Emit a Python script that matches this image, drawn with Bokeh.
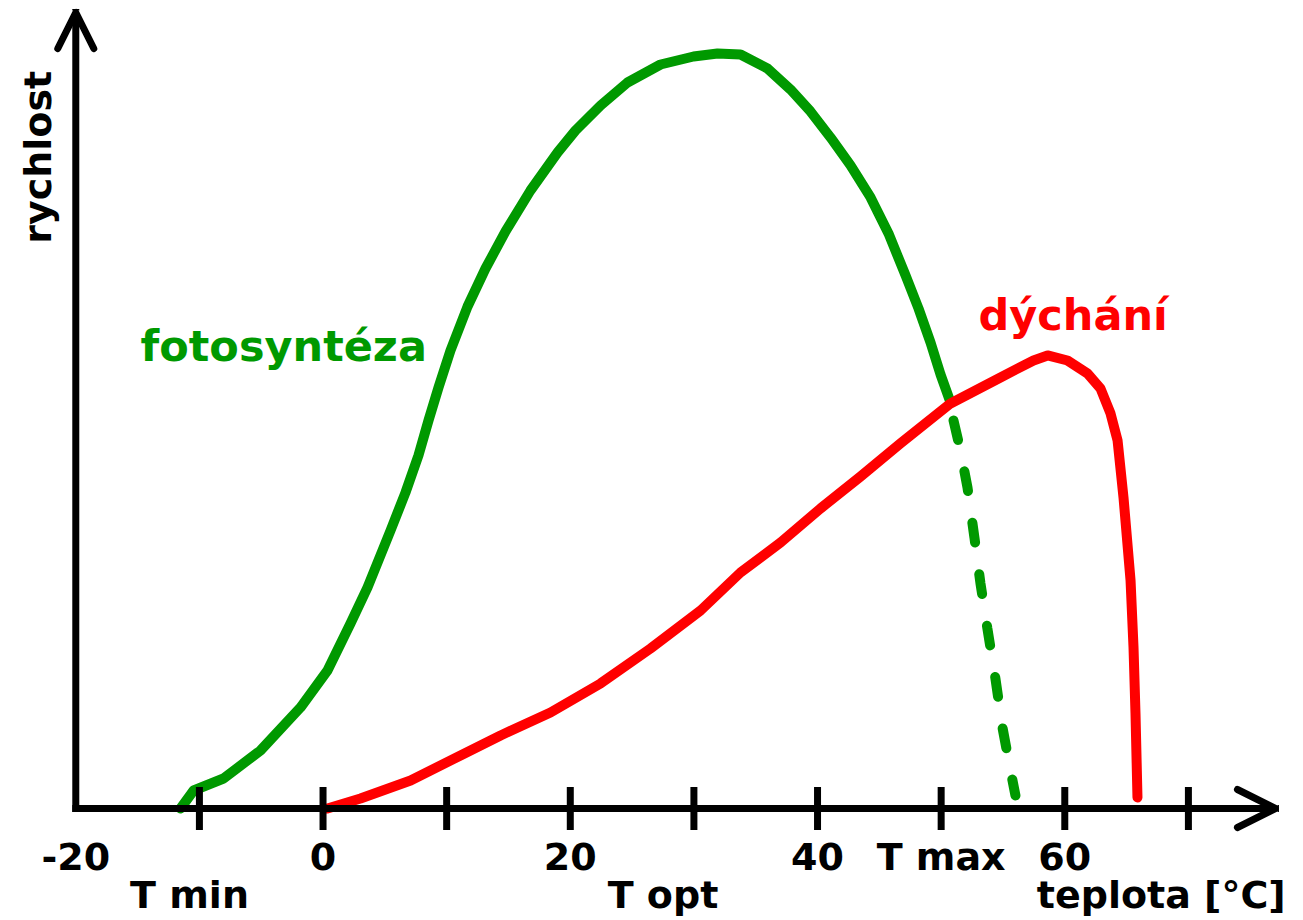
import numpy as np
from bokeh.plotting import figure
from bokeh.models import Range1d, Arrow, OpenHead, Label
from bokeh.core.properties import value
from bokeh.embed import file_html
from bokeh.resources import INLINE

# ---- data (temperature in °C, rate in arbitrary units) ----
photo_t = [-11.53, -10.47, -8.05, -5.06, -1.82, 0.36, 2.22, 3.60, 5.46, 6.67,
           7.72, 8.53, 9.34, 10.31, 11.69, 13.14, 14.76, 16.78, 18.97, 20.42,
           22.45, 24.63, 27.30, 29.97, 31.91, 33.77, 35.95, 37.81, 39.43, 41.05,
           42.67, 44.29, 45.74, 47.12, 48.17, 49.14, 49.95, 50.76]
photo_r = [0.0, 2.25, 3.75, 7.25, 12.63, 17.25, 23.13, 27.63, 34.75, 39.5,
           44.13, 48.5, 52.63, 57.25, 62.75, 67.5, 72.13, 77.25, 82.0, 84.75,
           87.88, 90.75, 93.0, 94.0, 94.38, 94.25, 92.5, 89.88, 87.13, 83.88,
           80.38, 76.38, 71.88, 66.63, 62.5, 58.25, 54.25, 50.75]

photo_dash_t = [51.0, 51.56, 52.13, 52.69, 53.18, 53.74, 54.39, 54.96, 55.61, 56.01]
photo_dash_r = [48.5, 44.75, 40.13, 33.88, 28.13, 22.5, 16.25, 10.13, 4.75, 1.63]

resp_t = [0.36, 3.03, 7.08, 11.12, 14.36, 18.40, 22.45, 26.49, 30.54, 33.77,
          37.01, 40.24, 43.48, 46.71, 50.76, 54.80, 57.47, 58.61, 60.22, 61.84,
          62.89, 63.70, 64.27, 64.75, 65.32, 65.56, 65.72, 65.88]
resp_r = [0.0, 1.25, 3.5, 6.63, 9.13, 12.0, 15.63, 20.0, 24.75, 29.5,
          33.25, 37.5, 41.5, 45.63, 50.63, 53.88, 56.0, 56.63, 56.0, 54.38,
          52.5, 49.38, 46.0, 38.88, 28.5, 20.13, 11.88, 1.38]

tick_values = [-10, 0, 10, 20, 30, 40, 50, 60, 70]
label_values = [-20, 0, 20, 40, 50, 60]
label_texts = ["-20", "0", "20", "40", "T max", "60"]
label2_values = [-10.8, 27.5, 67.8]
label2_texts = ["T min", "T opt", "teplota [°C]"]

GREEN = "#009900"
RED = "#ff0000"
FONT_NAME = "DejaVu Sans"
FONT = value(FONT_NAME)

p = figure(width=1303, height=920,
           x_range=Range1d(-26.09, 79.31), y_range=Range1d(-14.0, 101.0),
           output_backend="svg", toolbar_location=None,
           x_axis_location=None, y_axis_location=None,
           min_border=0, outline_line_color=None,
           background_fill_color="white", border_fill_color="white")
p.grid.visible = False

# curves
p.line(photo_t, photo_r, line_color=GREEN, line_width=10,
       line_join="round", line_cap="round")
p.line(photo_dash_t, photo_dash_r, line_color=GREEN, line_width=10,
       line_cap="round", line_dash="20 32")
p.line(resp_t, resp_r, line_color=RED, line_width=10,
       line_join="round", line_cap="round")

# axes (arrows)
p.add_layout(Arrow(x_start=-20, y_start=0, x_end=77.04, y_end=0,
                   line_width=7, line_color="black", line_cap="square",
                   end=OpenHead(size=38, line_width=7, line_color="black",
                                line_join="round", line_cap="round")))
p.add_layout(Arrow(x_start=-20, y_start=0, x_end=-20, y_end=99.5,
                   line_width=7, line_color="black", line_cap="square",
                   end=OpenHead(size=36, line_width=7, line_color="black",
                                line_join="round", line_cap="round")))

# ticks
p.scatter(tick_values, np.zeros(len(tick_values)), marker="dash", angle=np.pi / 2,
          size=43, line_width=7, line_color="black")

# tick labels
p.text(label_values, np.zeros(len(label_values)), text=label_texts,
       text_align="center", text_baseline="alphabetic", y_offset=48,
       text_font=FONT, text_font_style="bold", text_font_size="38px",
       text_color="black")
p.text(label2_values, np.zeros(len(label2_values)), text=label2_texts,
       text_align="center", text_baseline="alphabetic", y_offset=86,
       text_font=FONT, text_font_style="bold", text_font_size="38px",
       text_color="black")

# axis title and curve labels
p.add_layout(Label(x=-23.09, y=81.4, text="rychlost", angle=np.pi / 2,
                   text_align="center", text_baseline="alphabetic",
                   text_font=FONT_NAME, text_font_style="bold", text_font_size="38px",
                   text_color="black"))
p.add_layout(Label(x=-14.76, y=57.85, text="fotosyntéza",
                   text_align="left", text_baseline="alphabetic",
                   text_font=FONT_NAME, text_font_style="bold", text_font_size="43px",
                   text_color=GREEN))
p.add_layout(Label(x=53.02, y=61.75, text="dýchání",
                   text_align="left", text_baseline="alphabetic",
                   text_font=FONT_NAME, text_font_style="bold", text_font_size="43px",
                   text_color=RED))

open("out.html", "w").write(file_html(p, INLINE))
